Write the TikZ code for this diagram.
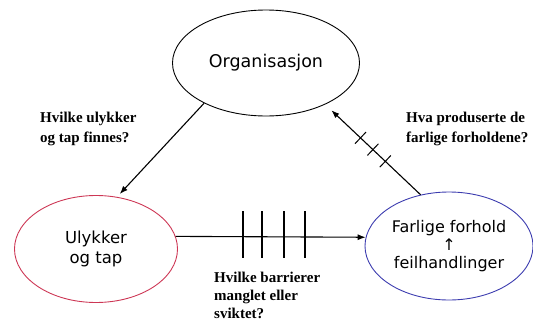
\documentclass[tikz,border=0pt]{standalone}
\usepackage{fontspec}
\setmainfont{Liberation Serif}
\newfontfamily\labelfont{DejaVu Sans}
\usetikzlibrary{shapes.geometric,arrows.meta,calc}
\definecolor{losscol}{RGB}{205,55,85}
\definecolor{condcol}{RGB}{60,60,175}

\begin{document}
\begin{tikzpicture}[x=1pt, y=-1pt,
  state/.style={draw, ellipse, inner sep=0pt, line width=0.9pt, align=center, font=\labelfont\fontsize{16.5}{20}\selectfont},
  conn/.style={-{Latex[length=8pt,width=6pt]}, line width=1.1pt},
  barrier/.style={line width=2.8pt},
  question/.style={anchor=north west, inner sep=0pt, align=left, font=\bfseries\fontsize{15}{20}\selectfont}]
\useasboundingbox (0,0) rectangle (533,324);

\node (org) at (266,63) [state, minimum width=187pt, minimum height=106pt, font=\labelfont\fontsize{17.5}{20}\selectfont] {Organisasjon};
\node (ulykke) at (96,249) [state, draw=losscol, minimum width=163pt, minimum height=107pt] {Ulykker\\og tap};
\node (farlig) at (449,246) [state, draw=condcol, minimum width=168pt, minimum height=108pt, font=\labelfont\fontsize{16}{18}\selectfont] {Farlige forhold\\↑\\feilhandlinger};

\node (q1) at (40,112) [question] {Hvilke ulykker\\og tap finnes?};
\node (q2) at (406,112) [question] {Hva produserte de\\farlige forholdene?};
\node (q3) at (214,272) [question, font=\bfseries\fontsize{15}{18}\selectfont] {Hvilke barrierer\\manglet eller\\sviktet?};

\draw[conn, shorten >=4pt] (org.213) -- (ulykke.68);
\draw[conn] (ulykke.9) -- (farlig.174);
\draw[conn, shorten >=8.5pt] (farlig.119) -- (org.325);

% barriers
\foreach \x in {243,262,284,305}
  \draw[barrier] (\x,211) -- (\x,258);
\foreach \t in {0.37,0.5,0.63}
  \draw[line width=1pt] ($($(farlig.119)!\t!(org.325)$)!8pt!90:(org.325)$) -- ($($(farlig.119)!\t!(org.325)$)!8pt!-90:(org.325)$);
\end{tikzpicture}
\end{document}
